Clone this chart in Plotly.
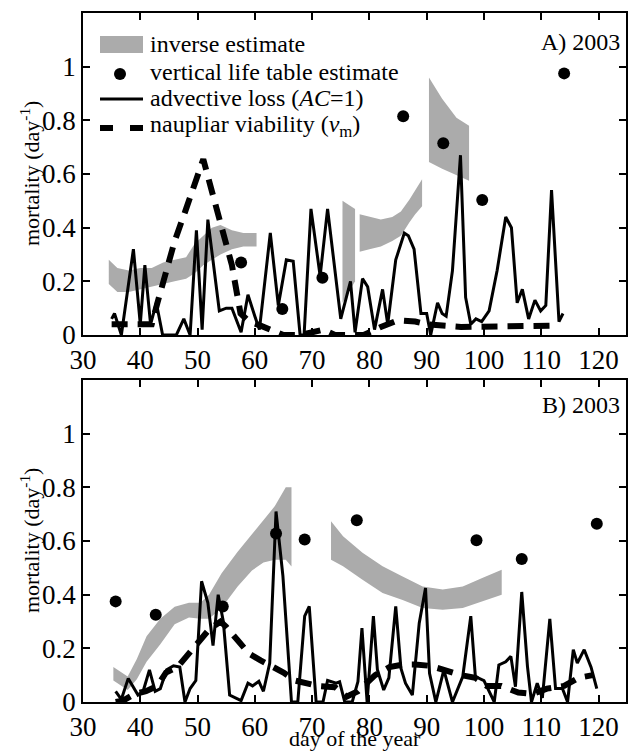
import plotly.graph_objects as go

# ---------------- data: panel A (2003) ----------------
A_adv_day = [35.0, 35.5, 36.7, 38.8, 40.0, 40.8, 41.8, 42.8, 43.9, 46.3, 47.6, 48.7, 49.8, 50.8, 51.8,
             53.8, 55.0, 56.0, 57.6, 58.8, 60.0, 60.8, 62.7, 64.1, 65.5, 66.7, 67.9, 68.6, 69.8, 71.4,
             72.7, 75.0, 76.7, 77.5, 78.8, 79.7, 80.9, 82.3, 83.2, 84.6, 86.1, 86.8, 87.8, 89.0, 90.0,
             90.7, 91.9, 92.7, 93.4, 94.5, 95.9, 96.8, 97.7, 98.6, 99.6, 100.9, 102.3, 103.8, 104.8,
             105.8, 106.7, 107.8, 108.9, 109.9, 110.8, 111.8, 113.1, 113.8]
A_adv_val = [0.06, 0.08, 0.00, 0.32, 0.04, 0.26, 0.04, 0.12, 0.00, 0.00, 0.06, 0.00, 0.39, 0.02, 0.43,
             0.09, 0.10, 0.10, 0.01, 0.15, 0.07, 0.02, 0.38, 0.11, 0.28, 0.275, 0.00, 0.00, 0.47, 0.22,
             0.47, 0.06, 0.20, 0.01, 0.21, 0.18, 0.02, 0.17, 0.04, 0.28, 0.38, 0.37, 0.32, 0.08, 0.08,
             0.00, 0.12, 0.08, 0.07, 0.24, 0.67, 0.14, 0.04, 0.06, 0.05, 0.09, 0.24, 0.44, 0.40,
             0.12, 0.17, 0.06, 0.13, 0.09, 0.11, 0.54, 0.05, 0.08]

A_via_day = [35, 42, 43, 46, 48, 51, 52.7, 54.5, 56, 57.5, 59, 61, 63, 65, 68, 70, 72, 74, 79, 82, 85,
             88, 90, 96, 104, 113]
A_via_val = [0.04, 0.04, 0.12, 0.35, 0.47, 0.655, 0.52, 0.38, 0.26, 0.08, 0.05, 0.035, 0.02, 0.0, 0.0,
             0.01, 0.02, 0.0, 0.0, 0.03, 0.055, 0.05, 0.04, 0.03, 0.03, 0.035]

A_vlt_day = [57.6, 64.8, 71.8, 85.9, 92.9, 99.7, 114.0]
A_vlt_val = [0.27, 0.097, 0.213, 0.815, 0.715, 0.503, 0.975]

A_inv_day = [[34.5, 36, 38, 40, 42, 44, 46, 48, 49.5, 51, 52.5, 54, 56, 58, 60.3],
             [75.3, 77.5],
             [78.3, 80, 82, 84, 85.5, 87, 88, 89.2],
             [90.4, 92.7, 95.2, 97.4]]
A_inv_up = [[0.28, 0.25, 0.24, 0.25, 0.25, 0.27, 0.28, 0.29, 0.34, 0.37, 0.40, 0.41, 0.39, 0.38, 0.38],
            [0.50, 0.47],
            [0.45, 0.44, 0.43, 0.44, 0.46, 0.505, 0.54, 0.58],
            [0.96, 0.88, 0.81, 0.78]]
A_inv_lo = [[0.19, 0.16, 0.16, 0.17, 0.18, 0.19, 0.20, 0.21, 0.23, 0.26, 0.28, 0.30, 0.32, 0.33, 0.33],
            [0.12, 0.20],
            [0.31, 0.32, 0.33, 0.35, 0.37, 0.42, 0.45, 0.48],
            [0.645, 0.62, 0.595, 0.575]]

# ---------------- data: panel B (2003) ----------------
B_adv_day = [35.7, 36.7, 37.9, 39.6, 40.5, 41.6, 42.6, 43.5, 44.6, 45.8, 46.9, 47.8, 48.7, 49.7, 50.7,
             51.8, 52.7, 53.6, 54.5, 55.6, 57.6, 58.8, 59.6, 60.7, 61.5, 62.6, 63.7, 64.9, 66.4, 67.5,
             68.7, 69.5, 70.7, 71.9, 72.7, 74.2, 74.8, 75.7, 77.0, 78.0, 78.7, 79.6, 80.7, 81.4, 82.5,
             83.4, 84.6, 85.5, 86.3, 87.5, 88.7, 89.8, 90.5, 91.6, 93.0, 94.5, 96.3, 97.7, 98.5, 100.0,
             101.8, 102.6, 103.8, 104.7, 105.5, 106.6, 107.6, 108.3, 109.3, 110.2, 111.5, 112.5, 113.7,
             114.6, 115.6, 116.3, 117.5, 118.7, 119.7]
B_adv_val = [0.04, 0.01, 0.088, 0.026, 0.04, 0.12, 0.04, 0.05, 0.12, 0.135, 0.13, 0.00, 0.05, 0.08, 0.45,
             0.37, 0.21, 0.40, 0.30, 0.026, 0.005, 0.07, 0.06, 0.077, 0.04, 0.145, 0.71, 0.47, 0.00, 0.00,
             0.32, 0.356, 0.00, 0.00, 0.08, 0.07, 0.075, 0.00, 0.00, 0.076, 0.275, 0.00, 0.32, 0.12, 0.045,
             0.09, 0.356, 0.126, 0.07, 0.026, 0.294, 0.425, 0.107, 0.00, 0.12, 0.00, 0.095, 0.32, 0.095, 0.08,
             0.00, 0.138, 0.15, 0.17, 0.057, 0.41, 0.132, 0.00, 0.07, 0.015, 0.31, 0.05, 0.05,
             0.00, 0.195, 0.145, 0.195, 0.13, 0.05]

B_via_day = [35.7, 37, 39, 41, 43, 44.5, 46.5, 48.5, 50, 52, 54, 55, 57, 59, 61, 63, 65, 67, 69, 71, 74,
             76, 78, 79.5, 81, 83.5, 86, 88, 90.5, 93, 96, 98.5, 100.5, 103, 106, 108.5, 111, 114,
             116.5, 119]
B_via_val = [0.0, 0.005, 0.03, 0.04, 0.06, 0.11, 0.13, 0.18, 0.22, 0.27, 0.30, 0.28, 0.23, 0.18, 0.155,
             0.135, 0.11, 0.08, 0.07, 0.06, 0.055, 0.02, 0.04, 0.07, 0.10, 0.13, 0.14, 0.14, 0.135, 0.12,
             0.10, 0.09, 0.06, 0.06, 0.035, 0.03, 0.05, 0.06, 0.09, 0.10]

B_vlt_day = [35.7, 42.7, 54.4, 63.7, 68.7, 77.8, 98.7, 106.6, 119.7]
B_vlt_val = [0.375, 0.325, 0.356, 0.628, 0.606, 0.677, 0.603, 0.533, 0.664]

B_inv_day = [[35.3, 37.8, 39.4, 41.1, 43.5, 46.0, 48.5, 50.5, 52.0, 54.2, 57.0, 59.5, 61.5, 63.5, 65.4, 66.4],
             [73.3, 75.4, 78.8, 82.3, 85.8, 89.3, 92.8, 96.3, 99.7, 103.1]]
B_inv_up = [[0.13, 0.095, 0.16, 0.245, 0.31, 0.355, 0.37, 0.37, 0.40, 0.48, 0.56, 0.625, 0.68, 0.73, 0.80, 0.80],
            [0.674, 0.618, 0.556, 0.506, 0.468, 0.43, 0.419, 0.43, 0.462, 0.493]]
B_inv_lo = [[0.08, 0.045, 0.085, 0.15, 0.215, 0.29, 0.315, 0.31, 0.31, 0.35, 0.43, 0.49, 0.52, 0.53, 0.53, 0.505],
            [0.53, 0.506, 0.456, 0.406, 0.38, 0.35, 0.344, 0.35, 0.375, 0.40]]

x_ticks = [30, 40, 50, 60, 70, 80, 90, 100, 110, 120]
y_ticks = [0, 0.2, 0.4, 0.6, 0.8, 1.0]
y_ticktext = ["0", "0.2", "0.4", "0.6", "0.8", "1"]

legend_labels = ["inverse estimate", "vertical life table estimate",
                 "advective loss (<i>AC</i>=1)", "naupliar viability (<i>v</i><sub>m</sub>)"]
panel_labels = ["A) 2003", "B) 2003"]

# ---------------- figure ----------------
# the page body adds an 8px margin, so the figure is sized to end at the window edge
OFF = 8
W, H = 639 - OFF, 752 - OFF
PL, PR, PT, PB = 83, 626, 13, 702          # plot area in page pixels
ML, MR, MT, MB = PL - OFF, (W + OFF) - PR, PT - OFF, (H + OFF) - PB
PW, PH = PR - PL, PB - PT
FONT = "Liberation Serif"
BAND = "#ababab"


def px(x):
    return (x - PL) / PW


def py(y):
    return (PB - y) / PH


fig = go.Figure()


def add_panel(xa, ya, inv_day, inv_up, inv_lo, via_day, via_val, adv_day, adv_val, vlt_day, vlt_val):
    for d, u, l in zip(inv_day, inv_up, inv_lo):
        fig.add_trace(go.Scatter(x=d + d[::-1], y=u + l[::-1], fill="toself", fillcolor=BAND,
                                 mode="lines", line=dict(width=0, color=BAND), showlegend=False,
                                 hoverinfo="skip", xaxis=xa, yaxis=ya))
    fig.add_trace(go.Scatter(x=via_day, y=via_val, mode="lines",
                             line=dict(color="black", width=6, dash="16px,10px"),
                             showlegend=False, xaxis=xa, yaxis=ya))
    fig.add_trace(go.Scatter(x=adv_day, y=adv_val, mode="lines",
                             line=dict(color="black", width=3),
                             showlegend=False, xaxis=xa, yaxis=ya))
    fig.add_trace(go.Scatter(x=vlt_day, y=vlt_val, mode="markers",
                             marker=dict(color="black", size=12),
                             showlegend=False, xaxis=xa, yaxis=ya))


add_panel("x", "y", A_inv_day, A_inv_up, A_inv_lo, A_via_day, A_via_val, A_adv_day, A_adv_val,
          A_vlt_day, A_vlt_val)
add_panel("x2", "y2", B_inv_day, B_inv_up, B_inv_lo, B_via_day, B_via_val, B_adv_day, B_adv_val,
          B_vlt_day, B_vlt_val)

axis_common = dict(showline=True, linecolor="black", linewidth=1.5, mirror="ticks", ticks="inside",
                   ticklen=7, tickwidth=1.5, tickcolor="black", showgrid=False, zeroline=False,
                   automargin=False, tickfont=dict(family=FONT, size=27, color="black"))

dA = [py(335), 1.0]
dB = [0.0, py(380)]

fig.update_layout(
    width=W, height=H, margin=dict(l=ML, r=MR, t=MT, b=MB, pad=0),
    paper_bgcolor="white", plot_bgcolor="white", showlegend=False,
    font=dict(family=FONT, color="black"),
    xaxis=dict(domain=[0, 1], anchor="y", range=[30, 124.8], tickvals=x_ticks, **axis_common),
    yaxis=dict(domain=dA, anchor="x", range=[0, 1.2], tickvals=y_ticks, ticktext=y_ticktext,
               **axis_common),
    xaxis2=dict(domain=[0, 1], anchor="y2", range=[30, 124.8], tickvals=x_ticks, **axis_common),
    yaxis2=dict(domain=dB, anchor="x2", range=[0, 1.2], tickvals=y_ticks, ticktext=y_ticktext,
                **axis_common),
)

ann = []
# y titles
for yc in [(13 + 335) / 2, (380 + 702) / 2]:
    ann.append(dict(text="mortality (day<sup>-1</sup>)", x=px(30), y=py(yc), xref="paper", yref="paper",
                    textangle=-90, showarrow=False, xanchor="center", yanchor="middle",
                    font=dict(family=FONT, size=22, color="black")))
# x title
ann.append(dict(text="day of the year", x=px(355), y=py(738), xref="paper", yref="paper",
                showarrow=False, xanchor="center", yanchor="middle",
                font=dict(family=FONT, size=22, color="black")))
# panel labels
ann.append(dict(text=panel_labels[0], x=px(622), y=py(42), xref="paper", yref="paper", showarrow=False,
                xanchor="right", yanchor="middle", font=dict(family=FONT, size=24, color="black")))
ann.append(dict(text=panel_labels[1], x=px(622), y=py(405), xref="paper", yref="paper", showarrow=False,
                xanchor="right", yanchor="middle", font=dict(family=FONT, size=24, color="black")))
# legend texts
for lab, ry in zip(legend_labels, [44, 72, 98, 126]):
    ann.append(dict(text=lab, x=px(148), y=py(ry), xref="paper", yref="paper", showarrow=False,
                    xanchor="left", yanchor="middle", font=dict(family=FONT, size=24, color="black")))
fig.update_layout(annotations=ann)

shapes = [
    dict(type="rect", xref="paper", yref="paper", x0=px(100), x1=px(143), y0=py(53), y1=py(36),
         fillcolor=BAND, line=dict(width=0)),
    dict(type="circle", xref="paper", yref="paper", x0=px(114), x1=px(126), y0=py(80), y1=py(68),
         fillcolor="black", line=dict(width=0)),
    dict(type="line", xref="paper", yref="paper", x0=px(100), x1=px(143), y0=py(99), y1=py(99),
         line=dict(color="black", width=3)),
    dict(type="line", xref="paper", yref="paper", x0=px(100), x1=px(143), y0=py(128), y1=py(128),
         line=dict(color="black", width=6, dash="13px,17px")),
]
fig.update_layout(shapes=shapes)

fig.write_html("out.html")
